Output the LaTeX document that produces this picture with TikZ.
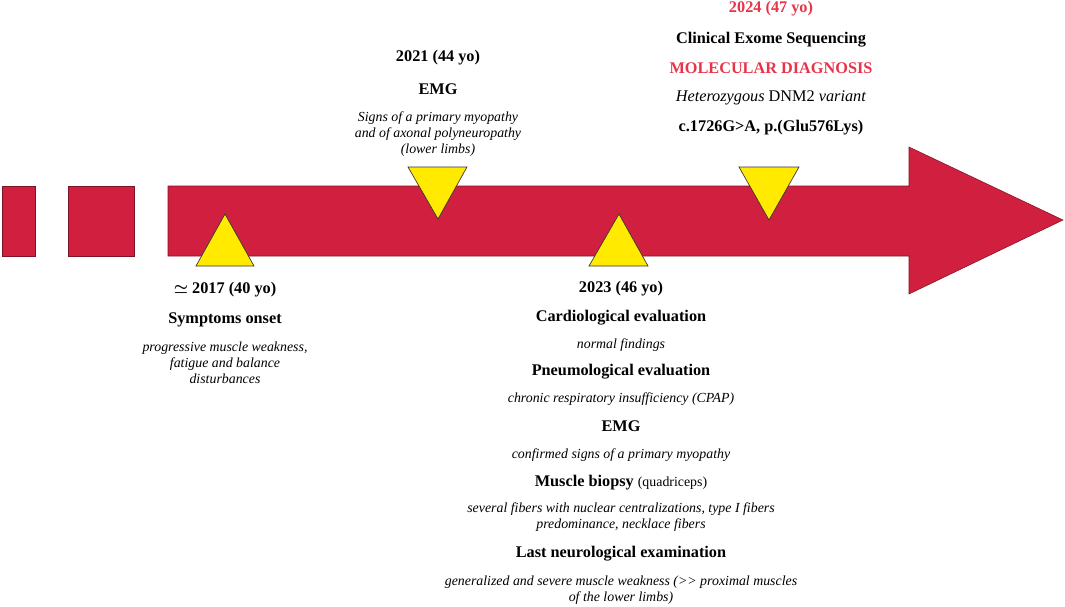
\documentclass[tikz,border=0pt]{standalone}
\usepackage{amsmath}
\usepackage{amssymb}
\usepackage{fontspec}
\setmainfont{Liberation Serif}
\usepackage{xcolor}
\usepackage{tikz}

\definecolor{tlred}{RGB}{209,31,64}
\definecolor{tlyellow}{RGB}{255,234,0}
\definecolor{txtred}{RGB}{232,52,72}

\tikzset{
  band/.style={fill=tlred, draw=tlred!60!black, line width=0.4pt},
  marker/.style={fill=tlyellow, draw=black!80, line width=0.5pt, line join=miter},
  year/.style={font=\bfseries\fontsize{12.2}{14}\selectfont, inner sep=0pt},
  title/.style={font=\bfseries\fontsize{12.2}{14}\selectfont, inner sep=0pt},
  note/.style={font=\itshape\fontsize{10.4}{12}\selectfont, align=center, inner sep=0pt}
}

\begin{document}
\begin{tikzpicture}[x=0.75pt, y=-0.75pt]

\useasboundingbox (0,0) rectangle (1065,607);

% timeline band
\path[band] (2,186) rectangle (35,256);
\path[band] (68,186) rectangle (134,256);
\path[band] (168,186) -- (909,186) -- (909,147) -- (1063,220) -- (909,294) -- (909,256) -- (168,256) -- cycle;

% markers
\path[marker] (196,266) -- (254,266) -- (225,214) -- cycle;
\path[marker] (408,167) -- (467,167) -- (438,219) -- cycle;
\path[marker] (589,266) -- (648,266) -- (619,214) -- cycle;
\path[marker] (739,167) -- (799,167) -- (769,220) -- cycle;

% 2017
\node[year] (y2017) at (225,290) {{\boldmath$\simeq$} 2017 (40 yo)};
\node[title] (onset) at (225,320) {Symptoms onset};
\node[note] (onsetn) at (225,363) {progressive muscle weakness,\\fatigue and balance\\disturbances};

% 2021
\node[year] (y2021) at (438,58) {2021 (44 yo)};
\node[title] (emg1) at (438,89) {EMG};
\node[note] (emg1n) at (438,134) {Signs of a primary myopathy\\and of axonal polyneuropathy\\(lower limbs)};

% 2023
\node[year] (y2023) at (621,289) {2023 (46 yo)};
\node[title] (cardio) at (621,318) {Cardiological evaluation};
\node[note] (cardion) at (621,345) {normal findings};
\node[title] (pneumo) at (621,372) {Pneumological evaluation};
\node[note] (pneumon) at (621,399) {chronic respiratory insufficiency (CPAP)};
\node[title] (emg2) at (621,426) {EMG};
\node[note] (emg2n) at (621,455) {confirmed signs of a primary myopathy};
\node[title] (biopsy) at (621,483) {Muscle biopsy {\mdseries\fontsize{10.4}{12}\selectfont (quadriceps)}};
\node[note] (biopsyn) at (621,517) {several fibers with nuclear centralizations, type I fibers\\predominance, necklace fibers};
\node[title] (neuro) at (621,554) {Last neurological examination};
\node[note] (neuron) at (621,590) {generalized and severe muscle weakness (>{}> proximal muscles\\of the lower limbs)};

% 2024
\node[year, text=txtred] (y2024) at (771,9) {2024 (47 yo)};
\node[title] (ces) at (771,40) {Clinical Exome Sequencing};
\node[title, text=txtred] (diag) at (771,68) {MOLECULAR DIAGNOSIS};
\node[font=\fontsize{12.2}{14}\selectfont, inner sep=0pt] (variant) at (771,98) {\textit{Heterozygous} DNM2 \textit{variant}};
\node[title] (hgvs) at (771,128) {c.1726G>A, p.(Glu576Lys)};

\end{tikzpicture}
\end{document}
